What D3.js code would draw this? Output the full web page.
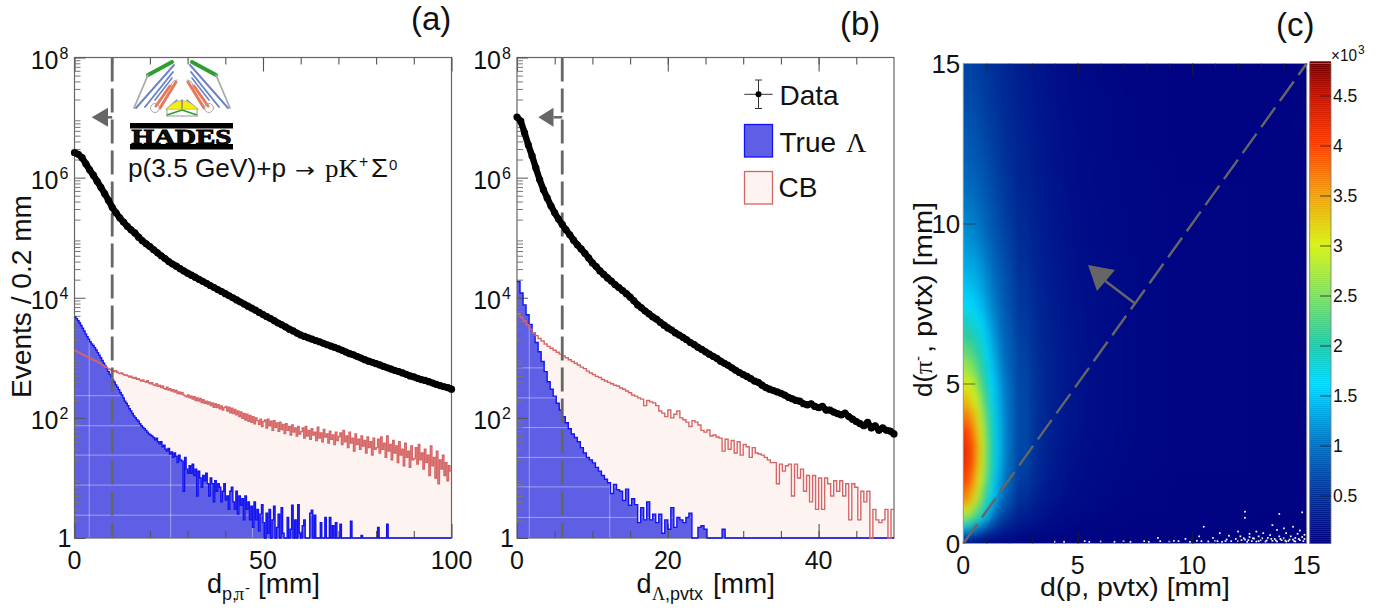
<!DOCTYPE html>
<html><head><meta charset="utf-8">
<script src="https://cdn.jsdelivr.net/npm/d3@7/dist/d3.min.js"></script>
<style>html,body{margin:0;background:#fff}svg{display:block}text{font-family:"Liberation Sans",Arial,sans-serif;fill:#111}</style>
</head><body><svg id="c" width="1391" height="610"></svg>
<script>
// ---- data: panel (a), bin width 0.4 mm for histograms, 1 mm for data points
const aStep=0.4, aDataStep=1;
const aBlue=[4800,4500,4150,3800,3450,3100,2800,2500,2250,2050,1850,1700,1600,1480,1350,1220,1110,1000,900,810,730,660,590,530,480,430,
395,355,325,295,265,240,215,190,175,160,142,131,118,108,101,93,88,80,74,69,66,62,58,54,52,
50,47,43,46,40,37,40,33,35,30,28,31,25,27,22,26,23,18,24,20,19,6,22,14,12,
16,12,17,11,14,5,13,10,7,11,9,12,8,5,10,8,4,9,6,8,7,4,6,8,4.3,
5,3,6,7,4,3,6,2.5,5,3.5,4.5,2,5,3,4,2,3.4,1.5,4,2,3,1.3,2.5,3.6,1.8,
1,2.6,1.2,3,1,2,3.4,1,1.5,2.5,1,3.2,1.2,0,1,2.2,1,1.4,3.5,1,2,1,3.6,1.2,0,
1.6,2,0,1,0,2.6,2.9,1,2.4,0,1,0,1.8,0,0,2.2,1,0,2.2,0,1.6,0,1.8,1,0,
1.7,0,0,0,0,0,0,1.9,0,0,0,0,0,0,1.1,0,0,0,0,0,0,0,0,0,0,
1.5,0,0,0,0,0,1.7,0,0,0,0,0,0,0,0,0,0,0,0,0,0,0,0,0,0,0,0,0,0,0,0,0,0,0,0,0,0,0,0,0,0,0,0,0,0,0,0,0,0];
const aRed=[1320,1280,1250,1200,1170,1130,1100,1070,1030,1000,980,950,920,900,880,850,830,800,770,735,705,690,660,640,630,
615,590,610,575,555,545,560,530,510,520,500,480,495,470,455,470,440,450,425,410,430,405,395,415,385,
370,385,355,345,370,335,350,320,340,310,300,325,290,305,280,295,270,285,255,270,250,265,240,232,224,
240,215,230,205,225,195,215,190,210,180,200,175,190,170,185,160,178,150,172,148,165,142,158,135,148,
155,130,150,122,145,118,138,112,130,105,125,98,118,92,115,88,110,84,105,80,100,90,78,95,72,
87,92,68,95,74,88,62,90,70,82,60,85,64,78,55,80,62,72,52,76,58,68,50,72,54,
59,68,46,72,50,62,44,66,52,58,42,70,46,56,40,64,48,54,38,60,44,52,36,58,42,
49,56,36,62,40,50,32,58,38,46,28,54,36,44,30,50,34,42,26,48,32,40,24,46,30,
32,44,26,48,30,38,22,50,28,36,20,42,26,34,18,40,24,30,16,38,22,28,15,34,20,
21,32,17,36,20,26,14,30,18,24,11,34,16,22,10,28,8,20,14,24,11,18,9,16,13];
const aData=[2.6e6,2.45e6,2.15e6,1.7e6,1.35e6,1.1e6,8.7e5,6.9e5,5.4e5,4.2e5,3.2e5,2.6e5,2.14e5,1.82e5,1.55e5,1.35e5,1.2e5,1.02e5,8.9e4,7.9e4,7.1e4,6.3e4,5.6e4,5e4,4.5e4,4e4,3.65e4,3.35e4,3.05e4,2.8e4,2.57e4,2.38e4,2.2e4,2.03e4,1.88e4,1.74e4,1.6e4,1.48e4,1.37e4,1.27e4,1.17e4,1.08e4,1e4,9.2e3,8.5e3,7.85e3,7.25e3,6.7e3,6.2e3,5.7e3,5.25e3,4.85e3,4.5e3,4.15e3,3.8e3,3.55e3,3.27e3,3e3,2.8e3,2.58e3,2.4e3,2.27e3,2.15e3,2.04e3,1.94e3,1.85e3,1.74e3,1.65e3,1.57e3,1.49e3,1.41e3,1.33e3,1.25e3,1.17e3,1.12e3,1.05e3,990,930,880,840,800,760,720,680,650,615,590,560,530,500,480,455,435,420,400,380,360,345,330,320,300];
// panel (b), bin width 0.4 mm for histograms, 0.5 mm for data points
const bStep=0.4, bDataStep=0.5;
const bBlue=[18600,12000,7600,5200,3600,2570,1800,1260,870,590,400,300,230,175,135,105,83,66,54,47,40,32,26,22,20,17.8,15,13,11,9.5,8.3,5.5,7.8,6.4,6,4.2,6.5,3.5,4.5,3.6,1.8,3.2,2,4,2,2.5,1.8,2.5,1.2,2,1.4,3.2,1.5,2.2,2,1.8,2.2,2.6,0,0,1.5,1.6,1.4,0,0,0,0,0,1.4,0,0,0,0,0,0,0,0,0,0,0,0,0,0,0,0,0,0,0,0,0,0,0,0,0,0,0,0,0,0,0,0,0,0,0,0,0,0,0,0,0,0,0,0,0,0,0,0,0,0,0,0,0,0,0,0];
const bRed=[5400,4700,4100,3550,3000,2570,2340,2100,1900,1700,1550,1440,1340,1240,1150,1070,1000,930,870,810,760,700,660,600,560,525,490,470,435,410,390,370,350,340,315,300,280,262,240,230,215,205,160,195,185,178,160,130,120,105,135,100,115,130,100,93,85,72,90,85,76,62,58,63,50,52,48,46,28,44,30,42,26,40,24,36,33,22,32,26,25,24,22,20,18,18,8,17,13,16,17,5,17,10,14,6,11,4,11,3,10,3,10,8,5,9,6,9,5,8,2,8,7,2,6,4,6,0,3,2,1.8,2,3,0,3];
const bData=[1.02e7,8.7e6,5.6e6,3.5e6,2.3e6,1.45e6,9.3e5,6.3e5,4.6e5,3.4e5,2.6e5,2.04e5,1.66e5,1.35e5,1.12e5,9.1e4,7.6e4,6.5e4,5.5e4,4.6e4,3.8e4,3.3e4,2.8e4,2.45e4,2.14e4,1.9e4,1.66e4,1.48e4,1.32e4,1.17e4,1.03e4,8.9e3,7.6e3,6.8e3,6e3,5.4e3,4.8e3,4.4e3,3.9e3,3.5e3,3.15e3,2.9e3,2.6e3,2.4e3,2.2e3,2e3,1.8e3,1.66e3,1.5e3,1.38e3,1.26e3,1.15e3,1.06e3,980,880,810,750,680,620,570,525,490,450,410,390,350,320,300,285,270,257,240,220,208,195,190,172,165,172,155,148,155,135,135,125,118,112,120,105,95,87,80,74,84,68,74,62,68,62,60,54];
// panel (c): z values (x 10^3) per row of heatY, per column of heatX
const heatX=[0,.25,.5,.75,1,1.25,1.5,1.75,2,2.5,3,3.5,4,5,6,8,10,15];
const heatY=[0,.25,.5,.75,1,1.5,2,2.5,3,3.5,4,4.5,5,5.5,6,6.5,7,7.5,8,8.5,9,9.5,10,10.5,11,11.5,12,12.5,13,13.5,14,14.5,15];
const heatZ=[
[.12,.1,.09,.08,.07,.06,.05,.05,.04,.04,.03,.03,.03,.03,.03,.03,.03,.02],
[.7,.65,.55,.45,.35,.28,.22,.18,.15,.11,.08,.07,.06,.05,.04,.03,.03,.03],
[1.6,1.5,1.3,1.05,.8,.62,.48,.38,.3,.2,.14,.1,.08,.06,.05,.04,.03,.03],
[2.4,2.3,2,1.65,1.25,.95,.72,.56,.45,.3,.2,.14,.11,.08,.06,.04,.04,.03],
[3.05,2.9,2.6,2.15,1.65,1.25,.95,.74,.6,.38,.26,.18,.14,.09,.07,.05,.04,.03],
[3.7,3.55,3.15,2.65,2.05,1.6,1.22,.95,.76,.5,.34,.24,.18,.12,.08,.05,.04,.03],
[4,3.85,3.45,2.95,2.35,1.8,1.4,1.1,.88,.58,.4,.28,.21,.14,.09,.06,.04,.03],
[4.15,4.05,3.65,3.1,2.5,1.9,1.48,1.17,.94,.64,.44,.32,.24,.15,.1,.06,.05,.04],
[4.2,4.05,3.7,3.15,2.55,1.92,1.5,1.2,.97,.67,.47,.34,.26,.16,.11,.06,.05,.04],
[4.05,3.9,3.55,3.05,2.45,1.88,1.48,1.2,.98,.68,.49,.36,.27,.17,.12,.07,.05,.04],
[3.7,3.6,3.3,2.85,2.3,1.8,1.45,1.18,.97,.68,.5,.37,.28,.18,.12,.07,.05,.04],
[3.35,3.25,3,2.6,2.12,1.7,1.4,1.14,.95,.68,.5,.38,.29,.18,.12,.07,.05,.04],
[3.05,2.95,2.75,2.35,1.95,1.6,1.33,1.1,.92,.67,.5,.38,.29,.19,.13,.07,.05,.04],
[2.7,2.6,2.45,2.1,1.78,1.5,1.25,1.05,.88,.65,.49,.38,.29,.19,.13,.07,.05,.04],
[2.4,2.3,2.15,1.92,1.65,1.4,1.18,1,.85,.63,.48,.37,.29,.19,.13,.07,.05,.04],
[2.1,2.05,1.92,1.75,1.52,1.3,1.1,.95,.81,.6,.46,.36,.28,.18,.13,.07,.05,.04],
[1.85,1.82,1.72,1.58,1.4,1.2,1.04,.9,.77,.58,.44,.35,.27,.18,.12,.07,.05,.04],
[1.65,1.6,1.55,1.42,1.28,1.12,.97,.85,.73,.55,.42,.33,.26,.17,.12,.07,.05,.04],
[1.5,1.47,1.42,1.32,1.2,1.06,.93,.82,.71,.54,.41,.32,.25,.17,.12,.07,.05,.04],
[1.4,1.37,1.33,1.24,1.12,1,.88,.78,.68,.51,.39,.3,.24,.16,.11,.07,.05,.04],
[1.3,1.27,1.24,1.15,1.04,.93,.82,.73,.64,.48,.38,.29,.23,.16,.11,.07,.05,.04],
[1.22,1.19,1.15,1.07,.96,.87,.77,.69,.61,.46,.36,.28,.22,.15,.1,.06,.05,.04],
[1.15,1.12,1.08,1,.89,.81,.73,.65,.58,.44,.35,.27,.21,.15,.1,.06,.05,.04],
[1.08,1.05,1.01,.94,.84,.77,.69,.62,.55,.42,.33,.26,.2,.14,.1,.06,.05,.04],
[1,.98,.94,.88,.8,.73,.66,.59,.52,.4,.31,.25,.2,.14,.09,.06,.05,.04],
[.94,.92,.88,.83,.76,.69,.62,.56,.5,.38,.3,.24,.19,.13,.09,.06,.04,.04],
[.88,.86,.83,.78,.72,.66,.59,.53,.48,.37,.29,.23,.18,.13,.09,.06,.04,.04],
[.84,.82,.79,.74,.68,.63,.57,.51,.46,.36,.28,.22,.18,.12,.08,.05,.04,.03],
[.8,.78,.75,.71,.65,.6,.55,.49,.44,.34,.27,.22,.17,.12,.08,.05,.04,.03],
[.76,.74,.71,.67,.62,.57,.52,.47,.43,.33,.26,.21,.17,.12,.08,.05,.04,.03],
[.72,.7,.68,.64,.59,.55,.5,.45,.41,.32,.26,.2,.16,.11,.08,.05,.04,.03],
[.69,.67,.65,.61,.57,.53,.48,.44,.4,.31,.25,.2,.16,.11,.07,.05,.04,.03],
[.66,.64,.62,.58,.55,.5,.46,.42,.39,.3,.24,.19,.15,.1,.07,.05,.04,.03]];
// empty (white) cells of panel (c), as [x mm, y mm]
const emptyCells=[[4,.03],[4.4,.03],[5.3,.05],[5.5,.03],[6,.04],[6.6,.03],[7,.05],[7.3,.03],[7.9,.05],[8.1,.03],[8.5,.15],[8.6,.05],[9,.04],[9.4,.05],[9.7,.12],[9.9,.03],[10.2,.06],[10.3,.2],[10.5,.5],[10.7,.04],[10.9,.15],[11,.06],[11.2,.3],[11.3,.03],[11.5,.1],[11.6,.22],[11.7,.05],[11.9,.12],[12,.35],[12,.05],[12.1,.2],[12.3,.97],[12.3,.78],[12.3,.1],[12.4,.03],[12.5,.18],[12.5,.28],[12.6,.05],[12.7,.13],[12.8,.35],[12.8,.04],[12.9,.2],[13,.08],[13.1,.3],[13.2,.04],[13.3,.15],[13.4,.24],[13.5,.06],[13.5,.55],[13.6,.12],[13.7,.4],[13.7,.04],[13.8,.9],[13.8,.2],[13.9,.08],[14,.45],[14,.14],[14.1,.3],[14.1,.04],[14.2,.06],[14.3,.2],[14.4,.1],[14.4,.5],[14.5,.15],[14.5,.04],[14.6,.28],[14.7,.08],[14.7,.38],[14.8,.95],[14.8,.18],[14.85,.05],[14.9,.12],[14.9,.25],[12.15,.08],[12.25,.14],[12.45,.08],[12.65,.14],[12.9,.05],[13.05,.14],[13.25,.07],[13.45,.12],[13.65,.07],[13.85,.12],[14.05,.07],[14.25,.1],[14.45,.05],[14.65,.12],[11.1,.05],[11.45,.05],[10.4,.05],[9.2,.06]];
// faint moire lines seen in the blue fill
const aMoireX=[3.9,25.5,47.2], aMoireY=[234,74,24,7.6,2.4];
const bMoireX=[1.63,12.3], bMoireY=[680,215,69,22,7.1,2.2];
const paletteStops=[0,.5,1,1.6,2,2.5,3,3.5,4,4.5,4.82];
const paletteColors=["#000080","#003098","#0070c0","#00d8ff","#20c8a8","#80e060","#d8f018","#f0a010","#ff3c00","#c01000","#700000"];
const zTicks=[.5,1,1.5,2,2.5,3,3.5,4,4.5];

const svg=d3.select("#c");
const defs=svg.append("defs");
const GREY="#666", T=57.5, B=538, PINK="#fdf3f1";
const txt=(p,x,y,s,size,o={})=>{const t=p.append("text").attr("x",x).attr("y",y).attr("font-size",size).text(s);
  for(const k in o)t.attr(k,o[k]);return t;};
const SERIF="'Liberation Serif','DejaVu Serif',serif";

function histPanel(id,L,R,xMax,xMajor,xMinor,step,dataStep,blue,red,data,mx,my,cut,arrowTip,arrowBase){
  const g=svg.append("g");
  const x=d3.scaleLinear().domain([0,xMax]).range([L,R]);
  const y=d3.scaleLog().domain([1,1e8]).range([B,T]).clamp(true);
  const yv=v=>y(Math.max(v,1));
  const pts=arr=>[...arr.map((v,i)=>[i*step,v]),[xMax,arr[arr.length-1]]];
  const area=d3.area().curve(d3.curveStepAfter).x(d=>x(d[0])).y0(B).y1(d=>yv(d[1]));
  const line=d3.line().curve(d3.curveStepAfter).x(d=>x(d[0])).y(d=>yv(d[1]));
  defs.append("clipPath").attr("id","blue"+id).append("path").attr("d",area(pts(blue)));
  g.append("path").attr("d",area(pts(red))).attr("fill",PINK);
  g.append("path").attr("d",area(pts(blue))).attr("fill","#5f5fe5");
  const m=g.append("g").attr("clip-path",`url(#blue${id})`).attr("stroke","#fff").attr("stroke-opacity",.4).attr("stroke-width",1);
  m.selectAll("line.v").data(mx).join("line").attr("class","v").attr("x1",d=>x(d)).attr("x2",d=>x(d)).attr("y1",T).attr("y2",B);
  m.selectAll("line.h").data(my).join("line").attr("class","h").attr("y1",d=>y(d)).attr("y2",d=>y(d)).attr("x1",L).attr("x2",R);
  // frame + axes
  g.append("rect").attr("x",L).attr("y",T).attr("width",R-L).attr("height",B-T).attr("fill","none").attr("stroke",GREY).attr("stroke-width",1.2);
  const ax=(sel,ticks,len)=>{sel.call(d3.axisBottom(x).tickValues(ticks).tickSize(len).tickFormat("")).call(s=>s.select(".domain").remove());
    sel.selectAll("line").attr("stroke","#555").attr("stroke-width",1.1);};
  ax(g.append("g").attr("transform",`translate(0,${T})`),xMinor,7);
  ax(g.append("g").attr("transform",`translate(0,${T})`),xMajor,14);
  ax(g.append("g").attr("transform",`translate(0,${B})`),xMinor,-7);
  ax(g.append("g").attr("transform",`translate(0,${B})`),xMajor,-14);
  xMajor.forEach(v=>txt(g,x(v),568.5,String(v),25,{"text-anchor":"middle"}));
  const minors=d3.range(0,8).flatMap(d=>d3.range(2,10).map(k=>k*Math.pow(10,d)));
  const yAx=(ticks,len,col)=>{const s=g.append("g").attr("transform",`translate(${L},0)`)
     .call(d3.axisRight(y).tickValues(ticks).tickSize(len).tickFormat(""));s.select(".domain").remove();
     s.selectAll("line").attr("stroke",col).attr("stroke-width",1);};
  yAx(minors,6,"#777"); yAx([1,1e2,1e4,1e6,1e8],11,"#555");
  g.append("path").attr("d",line(pts(blue))).attr("fill","none").attr("stroke","#1414f0").attr("stroke-width",1.4);
  g.append("path").attr("d",line(pts(red))).attr("fill","none").attr("stroke","#d66565").attr("stroke-width",1.4);
  [1e2,1e4,1e6,1e8].forEach(v=>{const e=Math.round(Math.log10(v));
    txt(g,L-16,y(v)+11.5,"10",25,{"text-anchor":"end"});
    txt(g,L-15,y(v)+1,String(e),16);});
  txt(g,L-3,B+9,"1",25,{"text-anchor":"end"});
  // dashed cut
  g.append("line").attr("x1",x(cut)).attr("x2",x(cut)).attr("y1",T).attr("y2",B).attr("stroke",GREY).attr("stroke-width",2.8).attr("stroke-dasharray","24,7");
  // arrow
  const ay=117.3;
  g.append("line").attr("x1",x(cut)).attr("x2",arrowBase).attr("y1",ay).attr("y2",ay).attr("stroke",GREY).attr("stroke-width",2.5);
  g.append("path").attr("d",`M${arrowTip},${ay}L${arrowBase},${ay-9.5}L${arrowBase},${ay+9.5}Z`).attr("fill",GREY);
  // data points
  const dp=data.map((v,i)=>[i*dataStep,v]);
  g.append("path").attr("d",d3.line().x(d=>x(d[0])).y(d=>y(d[1]))(dp)).attr("fill","none").attr("stroke","#000").attr("stroke-width",6.4).attr("stroke-linejoin","round");
  g.selectAll("circle.pt").data(dp).join("circle").attr("class","pt").attr("cx",d=>x(d[0])).attr("cy",d=>y(d[1])).attr("r",3.6).attr("fill","#000");
  return g;
}
const ga=histPanel("a",74.5,451.5,100,[0,50,100],d3.range(10,100,10),aStep,aDataStep,aBlue,aRed,aData,aMoireX,aMoireY,10,91.7,108);
const gb=histPanel("b",517,894,50,[0,20,40],d3.range(5,50,5),bStep,bDataStep,bBlue,bRed,bData,bMoireX,bMoireY,6,538.3,553.5);

// panel letters
txt(svg,411,30,"(a)",33);
txt(svg,840,35,"(b)",33);
txt(svg,1276,36,"(c)",33);

// titles
txt(svg,0,0,"Events / 0.2 mm",27,{transform:"translate(31,398) rotate(-90)",textLength:203,lengthAdjust:"spacingAndGlyphs"});
txt(svg,207,593,"d",27);
txt(svg,222,600,"p,",18);
txt(svg,235,600,"π",18,{style:`font-family:${SERIF}`});
txt(svg,245,593,"-",15);
txt(svg,258,593,"[mm]",27,{textLength:62,lengthAdjust:"spacingAndGlyphs"});
txt(svg,636.5,593,"d",27);
txt(svg,652,600,"Λ",18,{style:`font-family:${SERIF}`});
txt(svg,665,600,",pvtx",18,{textLength:38,lengthAdjust:"spacingAndGlyphs"});
txt(svg,713,593,"[mm]",27,{textLength:62,lengthAdjust:"spacingAndGlyphs"});

// HADES logo
const logo=svg.append("g").attr("fill","none").attr("stroke-linecap","round");
[1,-1].forEach(s=>{
  const X=d=>182+s*d;
  const l=(a,b,c,d,col,w)=>logo.append("line").attr("x1",X(a)).attr("y1",b).attr("x2",X(c)).attr("y2",d).attr("stroke",col).attr("stroke-width",w);
  l(10,62,34,75,"#2f9e2f",4);
  l(34,75,48,108,"#aaa",1.8);
  l(8,65,46,108,"#6a82c8",1.9); l(9,72,37,107,"#6a82c8",1.9);
  l(10,78,27,100,"#6a82c8",1.6);
  l(6,82,22,108,"#e8785a",3); l(12,86,26,106,"#e8785a",3);
  l(5,100,14,108,"#6a82c8",1.3);
  logo.append("path").attr("d",`M${X(5)},80 a6,6 0 0 ${s>0?1:0} ${s*6},6`).attr("stroke","#aaa").attr("stroke-width",1);
  logo.append("circle").attr("cx",X(27)).attr("cy",108).attr("r",4.5).attr("stroke","#aaa").attr("stroke-width",1);
  l(0,110,15,115,"#2f9e2f",1.6);
  l(15,109,15,116,"#999",1); l(0,116,15,116,"#999",1);
});
logo.append("path").attr("d","M166,109 Q182,92 198,109 Z").attr("fill","#f5ee10").attr("stroke","#999").attr("stroke-width",.6);
logo.append("line").attr("x1",182).attr("x2",182).attr("y1",100).attr("y2",108).attr("stroke","#888").attr("stroke-width",1.5);
svg.append("rect").attr("x",130).attr("y",123).attr("width",103).attr("height",5.5).attr("fill","#000");
svg.append("rect").attr("x",130).attr("y",144).attr("width",103).attr("height",5.5).attr("fill","#000");
txt(svg,131.5,143.5,"HADES",21,{style:`font-family:${SERIF};font-weight:bold`,stroke:"#000","stroke-width":.9,textLength:100,lengthAdjust:"spacingAndGlyphs"});
txt(svg,128,177,"p(3.5 GeV)+p",25,{textLength:158,lengthAdjust:"spacingAndGlyphs"});
txt(svg,295,177,"→",20,{style:"font-family:'DejaVu Sans'",textLength:20,lengthAdjust:"spacingAndGlyphs"});
txt(svg,325,177,"pK",25,{style:`font-family:${SERIF}`,textLength:33,lengthAdjust:"spacingAndGlyphs"});
txt(svg,359,167,"+",16);
txt(svg,371,177,"Σ",25,{textLength:17,lengthAdjust:"spacingAndGlyphs"});
txt(svg,389,170,"0",15);

// legend (b)
const lg=svg.append("g");
lg.append("path").attr("d","M744.3,94.3H772.7M758.5,80V108.5").attr("stroke","#333").attr("stroke-width",1);
lg.append("path").attr("d","M755,80H762M755,108.5H762").attr("stroke","#333").attr("stroke-width",1);
lg.append("circle").attr("cx",758.5).attr("cy",94.3).attr("r",3).attr("fill","#000");
lg.append("rect").attr("x",744.5).attr("y",124.5).attr("width",28).attr("height",32.5).attr("fill","#5f5fe5").attr("stroke","#1414f0").attr("stroke-width",1.3);
lg.append("rect").attr("x",744.5).attr("y",171.5).attr("width",28).attr("height",32.5).attr("fill",PINK).attr("stroke","#d66565").attr("stroke-width",1.3);
txt(lg,779.5,105,"Data",28);
txt(lg,779.5,152,"True",28);
txt(lg,846,152,"Λ",28,{style:`font-family:${SERIF}`});
txt(lg,778.5,197,"CB",28);

// panel (c)
const cL=963.3,cR=1306.7,cT=63.5,cB=543.5;
const hx=d3.scaleLinear().domain([0,15]).range([cL,cR]);
const hy=d3.scaleLinear().domain([0,15]).range([cB,cT]);
const zc=d3.scaleLinear().domain(paletteStops).range(paletteColors).clamp(true);
defs.append("clipPath").attr("id","cclip").append("rect").attr("x",cL).attr("y",cT).attr("width",cR-cL).attr("height",cB-cT);
const mkBlur=(id,dev)=>{const f=defs.append("filter").attr("id",id).attr("filterUnits","userSpaceOnUse").attr("x",cL-80).attr("y",cT-80).attr("width",cR-cL+160).attr("height",cB-cT+160).attr("color-interpolation-filters","sRGB");
  f.append("feGaussianBlur").attr("stdDeviation",dev);};
mkBlur("softWide","16 8"); mkBlur("softFine","3.2 6");
const edge=(a,i,sc,pad)=>{const lo=i?sc((a[i-1]+a[i])/2):sc(a[0])-pad, hi=i<a.length-1?sc((a[i]+a[i+1])/2):sc(a[i])+pad;return [lo,hi];};
const gc=svg.append("g");
const clipG=gc.append("g").attr("clip-path","url(#cclip)");
clipG.append("rect").attr("x",cL).attr("y",cT).attr("width",cR-cL).attr("height",cB-cT).attr("fill",paletteColors[0]);
const cells=heatZ.flatMap((row,j)=>row.map((z,i)=>({i,j,z})));
const drawCells=(sel,data)=>sel.selectAll("rect").data(data).join("rect")
  .attr("x",d=>edge(heatX,d.i,hx,60)[0]).attr("width",d=>{const e=edge(heatX,d.i,hx,60);return e[1]-e[0]+.6;})
  .attr("y",d=>{const e=edge(heatY,d.j,hy,-60);return e[1]-.3;}).attr("height",d=>{const e=edge(heatY,d.j,hy,-60);return e[0]-e[1]+.6;})
  .attr("fill",d=>zc(d.z));
drawCells(clipG.append("g").attr("filter","url(#softWide)"),cells);
drawCells(clipG.append("g").attr("filter","url(#softFine)"),cells.filter(d=>d.i<=9));
clipG.append("g").selectAll("rect").data(emptyCells).join("rect").attr("x",d=>hx(d[0])-.8).attr("y",d=>hy(d[1])-1.6).attr("width",1.7).attr("height",1.7).attr("fill","#fff");
gc.append("rect").attr("x",cL).attr("y",cT).attr("width",cR-cL).attr("height",cB-cT).attr("fill","none").attr("stroke","#9a9a9a").attr("stroke-width",1);
const cax=(t,ticks,len)=>{const s=gc.append("g").attr("transform",`translate(0,${t})`).call(d3.axisBottom(hx).tickValues(ticks).tickSize(len).tickFormat(""));s.select(".domain").remove();s.selectAll("line").attr("stroke","#222").attr("stroke-opacity",.7);};
cax(cT,d3.range(1,15),6);cax(cT,[5,10],12);cax(cB,d3.range(1,15),-6);cax(cB,[5,10],-12);
const cay=gc.append("g").attr("transform",`translate(${cL},0)`).call(d3.axisRight(hy).tickValues([5,10]).tickSize(12).tickFormat(""));
cay.select(".domain").remove();cay.selectAll("line").attr("stroke","#222").attr("stroke-opacity",.6);
[0,5,10,15].forEach(v=>{txt(gc,hx(v),573.5,String(v),25,{"text-anchor":"middle"});
  txt(gc,cL-3,hy(v)+9,String(v),26,{"text-anchor":"end"});});
gc.append("line").attr("x1",hx(0)).attr("y1",hy(0)).attr("x2",hx(15)).attr("y2",hy(15)).attr("stroke",GREY).attr("stroke-width",2.4).attr("stroke-dasharray","24,8");
gc.append("line").attr("x1",hx(7.5)).attr("y1",hy(7.5)).attr("x2",1104).attr("y2",280).attr("stroke",GREY).attr("stroke-width",2.5);
gc.append("path").attr("d","M1088,265L1115,270L1097,291Z").attr("fill",GREY);
txt(gc,1040,596,"d(p, pvtx) [mm]",25,{textLength:190,lengthAdjust:"spacingAndGlyphs"});
const ct=gc.append("g").attr("transform","translate(932,397) rotate(-90)");
txt(ct,0,0,"d(",26);
txt(ct,23,0,"π",26,{style:`font-family:${SERIF}`});
txt(ct,36,-9,"-",15);
txt(ct,44,0,", pvtx) [mm]",26,{textLength:151,lengthAdjust:"spacingAndGlyphs"});
// palette
const pL=1309.7,pR=1331;
const pz=d3.scaleLinear().domain([.02,4.82]).range([cB,cT]);
gc.append("g").selectAll("rect").data(d3.range(.02,4.82,.02)).join("rect").attr("x",pL).attr("width",pR-pL).attr("y",d=>pz(d+.02)-.2).attr("height",Math.abs(pz(0)-pz(.02))+.4).attr("fill",d=>zc(d));
gc.append("rect").attr("x",pL).attr("y",cT).attr("width",pR-pL).attr("height",cB-cT).attr("fill","none").attr("stroke","#777").attr("stroke-width",.8);
const pa=gc.append("g").attr("transform",`translate(${pR},0)`).call(d3.axisLeft(pz).tickValues(zTicks).tickSize(11).tickFormat(""));
pa.select(".domain").remove();pa.selectAll("line").attr("stroke","#222").attr("stroke-opacity",.8);
zTicks.forEach(v=>txt(gc,1333,pz(v)+6,String(v),17.5));
txt(gc,1331,61,"×10",17,{textLength:26,lengthAdjust:"spacingAndGlyphs"});
txt(gc,1358,54,"3",12);
</script></body></html>
